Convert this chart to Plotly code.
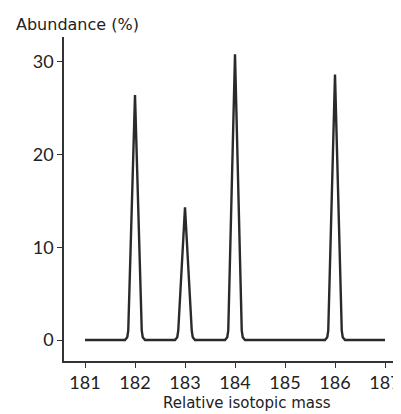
import plotly.graph_objects as go

# Data: tungsten isotope peaks
masses = [182, 183, 184, 186]
abundance = [26.4, 14.3, 30.8, 28.6]
baseline_start = 181.0
baseline_end = 187.0
x_ticks = [181, 182, 183, 184, 185, 186, 187]
y_ticks = [0, 10, 20, 30]

# peak shape (style): offsets from peak centre and heights for rounded foot
foot_dx = [0.20, 0.155, 0.135]
foot_dy = [0.0, 0.3, 1.0]

xs = [baseline_start]
ys = [0]
for m, h in zip(masses, abundance):
    xs += [m - d for d in foot_dx] + [m] + [m + d for d in reversed(foot_dx)]
    ys += foot_dy + [h] + list(reversed(foot_dy))
xs.append(baseline_end)
ys.append(0)

fig = go.Figure()
fig.add_trace(go.Scatter(x=xs, y=ys, mode="lines",
                         line=dict(color="#2a2a2a", width=2.4),
                         hoverinfo="skip", showlegend=False))

tick_font = "Lato, DejaVu Sans, sans-serif"
text_font = "DejaVu Sans, sans-serif"
fig.update_layout(
    width=393, height=406,
    margin=dict(l=56, r=0, t=29, b=53),
    paper_bgcolor="white", plot_bgcolor="white",
    font=dict(family=tick_font, color="#222"),
    showlegend=False,
)
fig.update_xaxes(range=[180.58, 187.32], tickvals=x_ticks, ticktext=[str(v) for v in x_ticks],
                 showgrid=False, zeroline=False, showline=True, linecolor="#333", linewidth=1.5,
                 ticks="outside", ticklen=5, tickcolor="#333", tickwidth=1.3, automargin=False,
                 tickfont=dict(size=18, family=tick_font, color="#222"))
fig.update_yaxes(range=[-2.26, 32.65], tickvals=y_ticks, ticktext=[str(v) for v in y_ticks],
                 showgrid=False, zeroline=False, showline=True, linecolor="#333", linewidth=1.5,
                 ticks="outside", ticklen=5, tickcolor="#333", tickwidth=1.3, automargin=False,
                 tickfont=dict(size=18, family=tick_font, color="#222"))
fig.add_annotation(text="Abundance (%)", xref="paper", yref="paper",
                   x=-50/337, y=1 + 13/324, xanchor="left", yanchor="middle",
                   showarrow=False, font=dict(size=16, family=text_font, color="#222"))
fig.add_annotation(text="Relative isotopic mass", xref="paper", yref="paper",
                   x=(247-64)/337, y=-(403-361)/324, xanchor="center", yanchor="middle",
                   showarrow=False, font=dict(size=15, family=text_font, color="#222"))

fig.write_html("out.html")
